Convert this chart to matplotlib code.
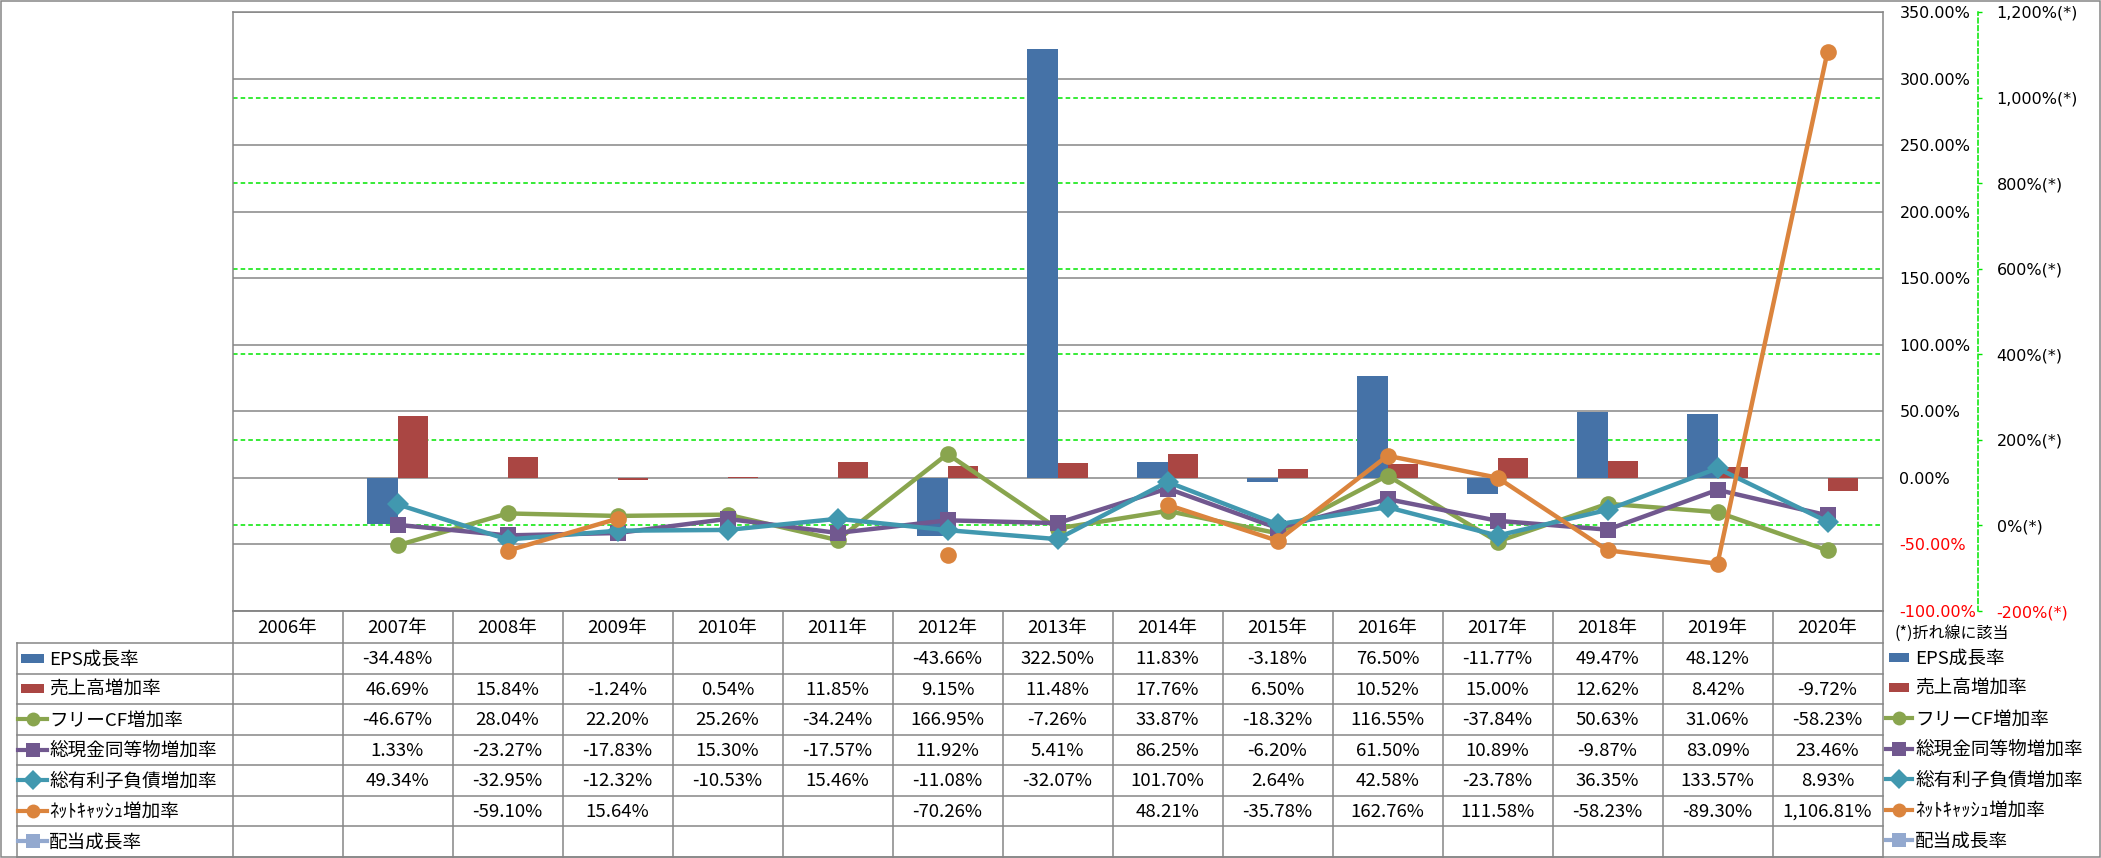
import numpy as np
import matplotlib
matplotlib.use("Agg")
import matplotlib.pyplot as plt
from matplotlib.lines import Line2D
from matplotlib.patches import Rectangle

nan = np.nan

# ---------------- data ----------------
years = ["2006年", "2007年", "2008年", "2009年", "2010年", "2011年", "2012年", "2013年",
         "2014年", "2015年", "2016年", "2017年", "2018年", "2019年", "2020年"]

eps_growth = [nan, -34.48, nan, nan, nan, nan, -43.66, 322.50, 11.83, -3.18, 76.50, -11.77, 49.47, 48.12, nan]
sales_growth = [nan, 46.69, 15.84, -1.24, 0.54, 11.85, 9.15, 11.48, 17.76, 6.50, 10.52, 15.00, 12.62, 8.42, -9.72]
fcf_growth = [nan, -46.67, 28.04, 22.20, 25.26, -34.24, 166.95, -7.26, 33.87, -18.32, 116.55, -37.84, 50.63, 31.06, -58.23]
cash_growth = [nan, 1.33, -23.27, -17.83, 15.30, -17.57, 11.92, 5.41, 86.25, -6.20, 61.50, 10.89, -9.87, 83.09, 23.46]
debt_growth = [nan, 49.34, -32.95, -12.32, -10.53, 15.46, -11.08, -32.07, 101.70, 2.64, 42.58, -23.78, 36.35, 133.57, 8.93]
netcash_growth = [nan, nan, -59.10, 15.64, nan, nan, -70.26, nan, 48.21, -35.78, 162.76, 111.58, -58.23, -89.30, 1106.81]
dividend_growth = [nan] * 15

series_names = ["EPS成長率", "売上高増加率", "フリーCF増加率", "総現金同等物増加率",
                "総有利子負債増加率", "ﾈｯﾄｷｬｯｼｭ増加率", "配当成長率"]
series_values = [eps_growth, sales_growth, fcf_growth, cash_growth,
                 debt_growth, netcash_growth, dividend_growth]
series_kind = ["bar", "bar", "line", "line", "line", "line", "line"]
series_colors = ["#4572A7", "#AA4643", "#89A54E", "#71588F", "#4198AF", "#DB843D", "#93A9CF"]
series_markers = [None, None, "o", "s", "D", "o", "s"]
series_msize = [0, 0, 12, 11.5, 11, 12, 11.5]

primary_ticks = [-100, -50, 0, 50, 100, 150, 200, 250, 300, 350]
secondary_ticks = [-200, 0, 200, 400, 600, 800, 1000, 1200]
note_text = "(*)折れ線に該当"

# ---------------- figure ----------------
W, H = 2101, 858
DPI = 100
fig = plt.figure(figsize=(W / DPI, H / DPI), dpi=DPI)
plt.rcParams["font.family"] = ["DejaVu Sans"]
JP = ["Noto Sans CJK JP", "DejaVu Sans"]

GRAY = "#868686"
GREEN = "#00E600"

plot_left, plot_right = 232.5, 1882.5
plot_top, plot_bottom = 12, 611
ax = fig.add_axes([plot_left / W, (H - plot_bottom) / H,
                   (plot_right - plot_left) / W, (plot_bottom - plot_top) / H])
ax2 = ax.twinx()

n = len(years)
x = np.arange(n)
ax.set_xlim(-0.5, n - 0.5)
ax.set_ylim(-100, 350)
ax2.set_ylim(-200, 1200)

# bars on primary axis
bw = 0.28
ax.bar(x - bw / 2, eps_growth, width=bw, color=series_colors[0], zorder=3)
ax.bar(x + bw / 2, sales_growth, width=bw, color=series_colors[1], zorder=3)

# gridlines
ax.set_axisbelow(True)
ax.yaxis.grid(True, color=GRAY, lw=1.1)
ax.xaxis.grid(False)
for t in secondary_ticks[1:-1]:
    ax.add_line(Line2D([0, 1], [t, t], transform=ax2.get_yaxis_transform(),
                       color=GREEN, lw=1.1, ls=(0, (3, 2)), zorder=1))

# lines on secondary axis
for name, vals, kind, col, mk, ms in zip(series_names, series_values, series_kind,
                                         series_colors, series_markers, series_msize):
    if kind != "line":
        continue
    ax2.plot(x, vals, color=col, lw=3.2, marker=mk, markersize=ms, markeredgewidth=0,
             markerfacecolor=col, solid_capstyle="round", zorder=4)

# primary axis styling
ax.set_xticks([])
ax.yaxis.tick_right()
ax.set_yticks(primary_ticks)
ax.set_yticklabels([f"{v:.2f}%" for v in primary_ticks])
ax.tick_params(axis="y", length=0, pad=12.2, labelsize=11.5)
for lab, v in zip(ax.get_yticklabels(), primary_ticks):
    lab.set_color("red" if v < 0 else "black")
    lab.set_horizontalalignment("left")
for s in ["left", "right", "top", "bottom"]:
    ax.spines[s].set_color(GRAY)
    ax.spines[s].set_linewidth(1.1)

# secondary axis styling
for s in ["left", "top", "bottom"]:
    ax2.spines[s].set_visible(False)
ax2.spines["right"].set_position(("outward", 95 * 72 / DPI))
ax2.spines["right"].set_color(GREEN)
ax2.spines["right"].set_linestyle((0, (3, 2)))
ax2.spines["right"].set_linewidth(1.1)
ax2.set_yticks(secondary_ticks)
ax2.set_yticklabels([f"{v:,.0f}%(*)" for v in secondary_ticks])
ax2.tick_params(axis="y", direction="out", length=3, width=1, color=GREEN,
                pad=10.8, labelsize=11.5)
for lab, v in zip(ax2.get_yticklabels(), secondary_ticks):
    lab.set_color("red" if v < 0 else "black")

# ---------------- data table & legend (pixel overlay) ----------------
ov = fig.add_axes([0, 0, 1, 1], zorder=10)
ov.set_xlim(0, W)
ov.set_ylim(H, 0)
ov.axis("off")
ov.patch.set_alpha(0)

col_w = (plot_right - plot_left) / n
col_x = [plot_left + i * col_w for i in range(n + 1)]
head_top, head_bot = 611, 643
row_h = (856.5 - head_bot) / len(series_names)
row_y = [head_bot + k * row_h for k in range(len(series_names) + 1)]
label_left = 16.5

lkw = dict(color=GRAY, lw=1.1, zorder=1)
# horizontal lines
ov.add_line(Line2D([plot_left, plot_right], [head_top, head_top], **lkw))
for yy in row_y:
    ov.add_line(Line2D([label_left, plot_right], [yy, yy], **lkw))
# vertical lines
ov.add_line(Line2D([label_left, label_left], [head_bot, row_y[-1]], **lkw))
for xx in col_x:
    ov.add_line(Line2D([xx, xx], [head_top, row_y[-1]], **lkw))
# chart border
ov.add_patch(Rectangle((0.5, 0.5), W - 1.5, H - 1.5, fill=False, edgecolor=GRAY, lw=1.1))

TFS = 13.4
for i, yr in enumerate(years):
    ov.text((col_x[i] + col_x[i + 1]) / 2, (head_top + head_bot) / 2 + 1, yr,
            ha="center", va="center", fontsize=TFS, family=JP)


def draw_icon(xl, xr, yc, kind, col, mk):
    if kind == "bar":
        ov.add_patch(Rectangle((xl + 3, yc - 4.5), (xr - xl) - 6, 9, color=col, lw=0))
    else:
        ov.add_line(Line2D([xl, xr], [yc, yc], color=col, lw=3))
        ov.add_line(Line2D([(xl + xr) / 2], [yc], color=col, marker=mk, markersize=10,
                           markeredgewidth=0, markerfacecolor=col))


for k, (name, vals, kind, col, mk) in enumerate(zip(series_names, series_values, series_kind,
                                                   series_colors, series_markers)):
    yc = (row_y[k] + row_y[k + 1]) / 2
    draw_icon(18, 47, yc, kind, col, mk)
    ov.text(49, yc + 1, name, ha="left", va="center", fontsize=TFS, family=JP)
    for i, v in enumerate(vals):
        if np.isnan(v):
            continue
        ov.text((col_x[i] + col_x[i + 1]) / 2, yc + 1, f"{v:,.2f}%",
                ha="center", va="center", fontsize=TFS, family=JP)
    # right legend
    draw_icon(1886, 1912, yc - 1, kind, col, mk)
    ov.text(1915, yc, name, ha="left", va="center", fontsize=TFS, family=JP)

ov.text(1895, 633, note_text, ha="left", va="center", fontsize=11.5, family=JP)

fig.savefig("out.png", dpi=DPI)
